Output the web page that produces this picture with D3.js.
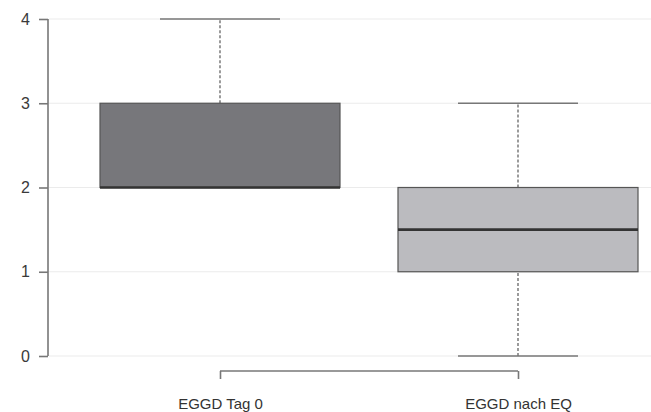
<!DOCTYPE html>
<html>
<head>
<meta charset="utf-8">
<script src="https://cdn.jsdelivr.net/npm/d3@7"></script>
<style>
  html, body { margin: 0; padding: 0; background: #fff; }
  svg { display: block; }
  text { font-family: "Liberation Sans", Arial, Helvetica, sans-serif; }
</style>
</head>
<body>
<svg id="chart" width="651" height="412"></svg>
<script>
// Boxplot summaries for each group
const categories = ["EGGD Tag 0", "EGGD nach EQ"];
const whiskerLow  = [2, 0];
const quartile1   = [2, 1];
const medians     = [2, 1.5];
const quartile3   = [3, 2];
const whiskerHigh = [4, 3];
const boxFills    = ["#77777b", "#bbbbbf"];
const yTicks      = [0, 1, 2, 3, 4];

const svg = d3.select("#chart");
const width = 651;

const y = d3.scaleLinear().domain([0, 4]).range([356, 19]);
const x = d3.scalePoint().domain(categories).range([220, 518]);
const boxHalf = 120, capHalf = 60;

// horizontal gridlines
svg.append("g")
  .selectAll("line")
  .data(yTicks)
  .join("line")
  .attr("x1", 49).attr("x2", width)
  .attr("y1", d => y(d)).attr("y2", d => y(d))
  .attr("stroke", "#ebebeb").attr("stroke-width", 1.2);

// y axis (line spans first to last tick)
const yAxis = svg.append("g")
  .attr("transform", "translate(48,0)")
  .call(d3.axisLeft(y).tickValues(yTicks).tickFormat(d3.format("d")).tickSize(9).tickPadding(9));
yAxis.select(".domain").attr("d", `M0,${y(0)}V${y(4)}`).attr("stroke", "#777").attr("stroke-width", 1.6);
yAxis.selectAll(".tick line").attr("stroke", "#777").attr("stroke-width", 1.6);
yAxis.selectAll(".tick text").attr("fill", "#3a3a3a").attr("font-size", 16);

// x axis bracket
const xAxis = svg.append("g")
  .attr("transform", "translate(0,371)")
  .call(d3.axisBottom(x).tickSizeInner(8).tickSizeOuter(0).tickPadding(19));
xAxis.select(".domain").attr("d", `M${x(categories[0])},0H${x(categories[1])}`).attr("stroke", "#777").attr("stroke-width", 1.6);
xAxis.selectAll(".tick line").attr("stroke", "#777").attr("stroke-width", 1.6);
xAxis.selectAll(".tick text").attr("fill", "#333").attr("font-size", 15);

const data = categories.map((c, i) => ({
  c, lo: whiskerLow[i], q1: quartile1[i], med: medians[i], q3: quartile3[i], hi: whiskerHigh[i], fill: boxFills[i]
}));

const g = svg.append("g").selectAll("g").data(data).join("g");

// dashed whiskers
g.append("line")
  .attr("x1", d => x(d.c)).attr("x2", d => x(d.c))
  .attr("y1", d => y(d.q3)).attr("y2", d => y(d.hi))
  .attr("stroke", "#666").attr("stroke-width", 1.3).attr("stroke-dasharray", "3,2");
g.append("line")
  .attr("x1", d => x(d.c)).attr("x2", d => x(d.c))
  .attr("y1", d => y(d.lo)).attr("y2", d => y(d.q1))
  .attr("stroke", "#666").attr("stroke-width", 1.3).attr("stroke-dasharray", "3,2");

// whisker caps
g.selectAll(".cap")
  .data(d => [d.lo, d.hi].map(v => ({ c: d.c, v })))
  .join("line")
  .attr("class", "cap")
  .attr("x1", d => x(d.c) - capHalf).attr("x2", d => x(d.c) + capHalf)
  .attr("y1", d => y(d.v)).attr("y2", d => y(d.v))
  .attr("stroke", "#777").attr("stroke-width", 1.6);

// boxes
g.append("rect")
  .attr("x", d => x(d.c) - boxHalf)
  .attr("width", boxHalf * 2)
  .attr("y", d => y(d.q3))
  .attr("height", d => y(d.q1) - y(d.q3))
  .attr("fill", d => d.fill)
  .attr("stroke", "#555").attr("stroke-width", 1.2);

// medians
g.append("line")
  .attr("x1", d => x(d.c) - boxHalf).attr("x2", d => x(d.c) + boxHalf)
  .attr("y1", d => y(d.med)).attr("y2", d => y(d.med))
  .attr("stroke", "#333").attr("stroke-width", 2.6);
</script>
</body>
</html>
